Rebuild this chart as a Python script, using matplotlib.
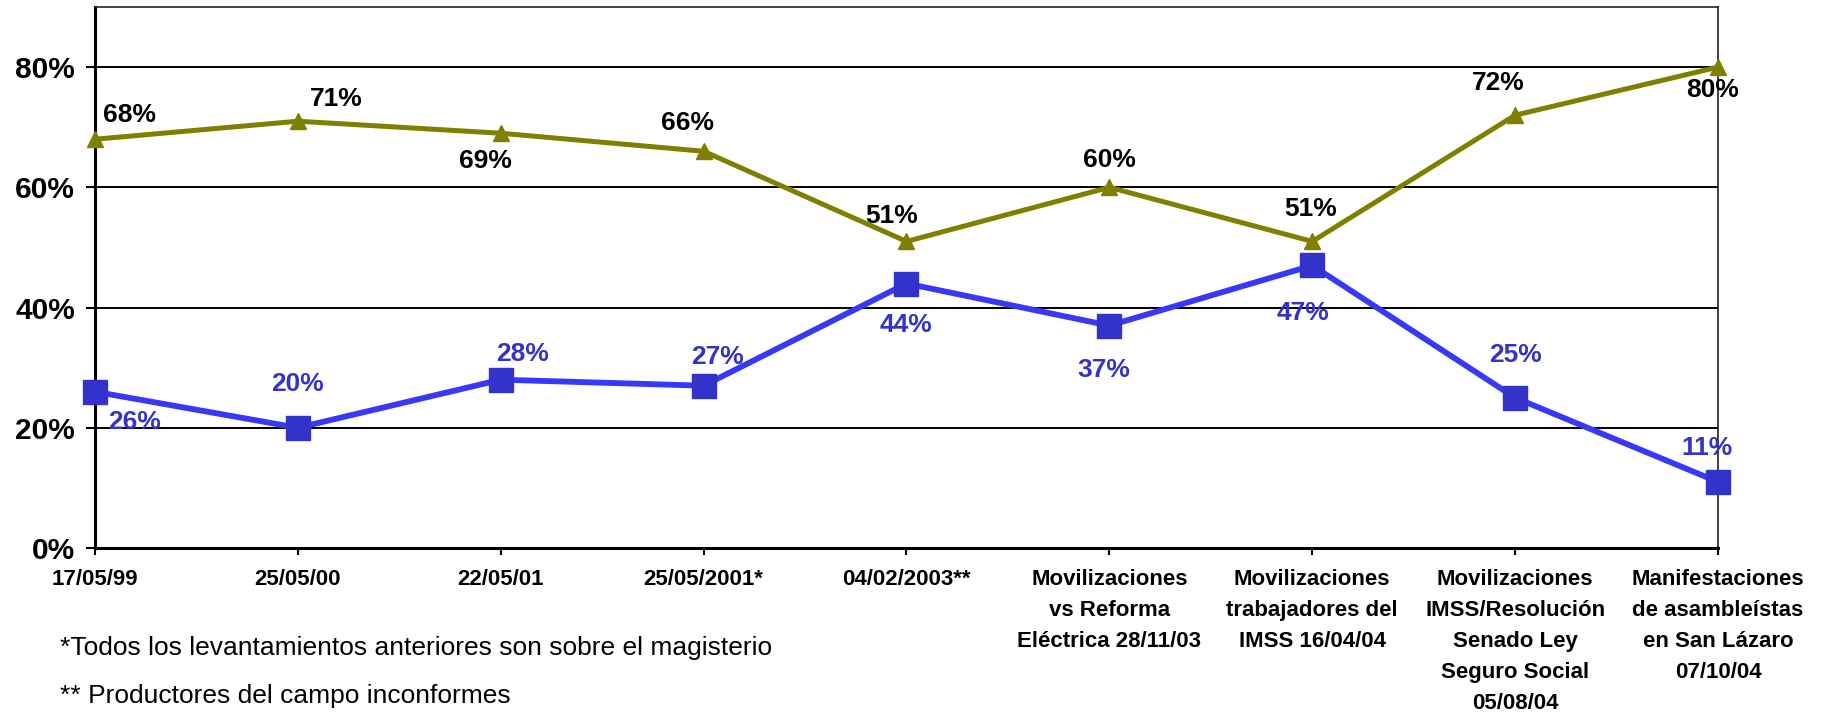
import matplotlib
matplotlib.use("Agg")
import matplotlib.pyplot as plt
from matplotlib.ticker import FixedLocator, FuncFormatter

plt.rcParams['font.family'] = ['Liberation Sans', 'DejaVu Sans']

# ---------------- data ----------------
categories = [
    "17/05/99",
    "25/05/00",
    "22/05/01",
    "25/05/2001*",
    "04/02/2003**",
    "Movilizaciones\nvs Reforma\nEléctrica 28/11/03",
    "Movilizaciones\ntrabajadores del\nIMSS 16/04/04",
    "Movilizaciones\nIMSS/Resolución\nSenado Ley\nSeguro Social\n05/08/04",
    "Manifestaciones\nde asambleístas\nen San Lázaro\n07/10/04",
]
olive_values = [68, 71, 69, 66, 51, 60, 51, 72, 80]
blue_values = [26, 20, 28, 27, 44, 37, 47, 25, 11]
y_ticks = [0, 20, 40, 60, 80]
footnotes = [
    "*Todos los levantamientos anteriores son sobre el magisterio",
    "** Productores del campo inconformes",
]

# label offsets (pixels, relative to point; +y = down on screen)
olive_offsets = [(35, -24), (38, -22), (-15, 28), (-16, -28), (-15, -25),
                 (0, -27), (-2, -32), (-17, -32), (-5, 23)]
blue_offsets = [(40, 30), (0, -44), (22, -26), (14, -29), (0, 41),
                (-6, 44), (-9, 48), (0, -43), (-11, -34)]

OLIVE = "#808000"
BLUE_LINE = "#3838F8"
BLUE_MARK = "#3333CC"

W, H = 1831, 714
fig = plt.figure(figsize=(W / 100, H / 100), dpi=100)
ax = fig.add_axes([95 / W, 1 - 548 / H, (1718 - 95) / W, (548 - 7) / H])

x = list(range(len(categories)))
ax.plot(x, olive_values, color=OLIVE, lw=3.6, marker="^", ms=11,
        mfc=OLIVE, mec=OLIVE, zorder=4, clip_on=False)
ax.plot(x, blue_values, color=BLUE_LINE, lw=4.2, marker="s", ms=17,
        mfc=BLUE_MARK, mec=BLUE_MARK, zorder=5, clip_on=False)

px2pt = 0.72
for xi, v, (dx, dy) in zip(x, olive_values, olive_offsets):
    ax.annotate(f"{v}%", (xi, v), xytext=(dx * px2pt, -dy * px2pt),
                textcoords="offset points", ha="center", va="center",
                fontsize=19, fontweight="bold", color="black", zorder=6)
for xi, v, (dx, dy) in zip(x, blue_values, blue_offsets):
    ax.annotate(f"{v}%", (xi, v), xytext=(dx * px2pt, -dy * px2pt),
                textcoords="offset points", ha="center", va="center",
                fontsize=19, fontweight="bold", color=BLUE_MARK, zorder=6)

ax.set_xlim(0, len(categories) - 1)
ax.set_ylim(0, 90)
ax.yaxis.set_major_locator(FixedLocator(y_ticks))
ax.yaxis.set_major_formatter(FuncFormatter(lambda v, p: f"{int(v)}%"))
ax.set_xticks(x)
ax.set_xticklabels(categories, fontsize=16, fontweight="bold",
                   linespacing=1.62, ha="center", va="top")
for lbl in ax.get_yticklabels():
    lbl.set_fontsize(21.5)
    lbl.set_fontweight("bold")

ax.grid(axis="y", color="black", lw=1.4, zorder=1)
ax.set_axisbelow(True)
ax.tick_params(axis="y", direction="out", length=6.5, width=1.5, pad=8, colors="black")
ax.tick_params(axis="x", direction="out", length=5, width=1.5, pad=10, colors="black")

for side in ("left", "bottom"):
    ax.spines[side].set_linewidth(2.2)
    ax.spines[side].set_color("black")
for side in ("top", "right"):
    ax.spines[side].set_linewidth(1.2)
    ax.spines[side].set_color("#222222")

fig.text(60 / W, 1 - 655 / H, footnotes[0], fontsize=19, va="baseline", ha="left")
fig.text(60 / W, 1 - 703 / H, footnotes[1], fontsize=19, va="baseline", ha="left")

fig.savefig("out.png", dpi=100)
